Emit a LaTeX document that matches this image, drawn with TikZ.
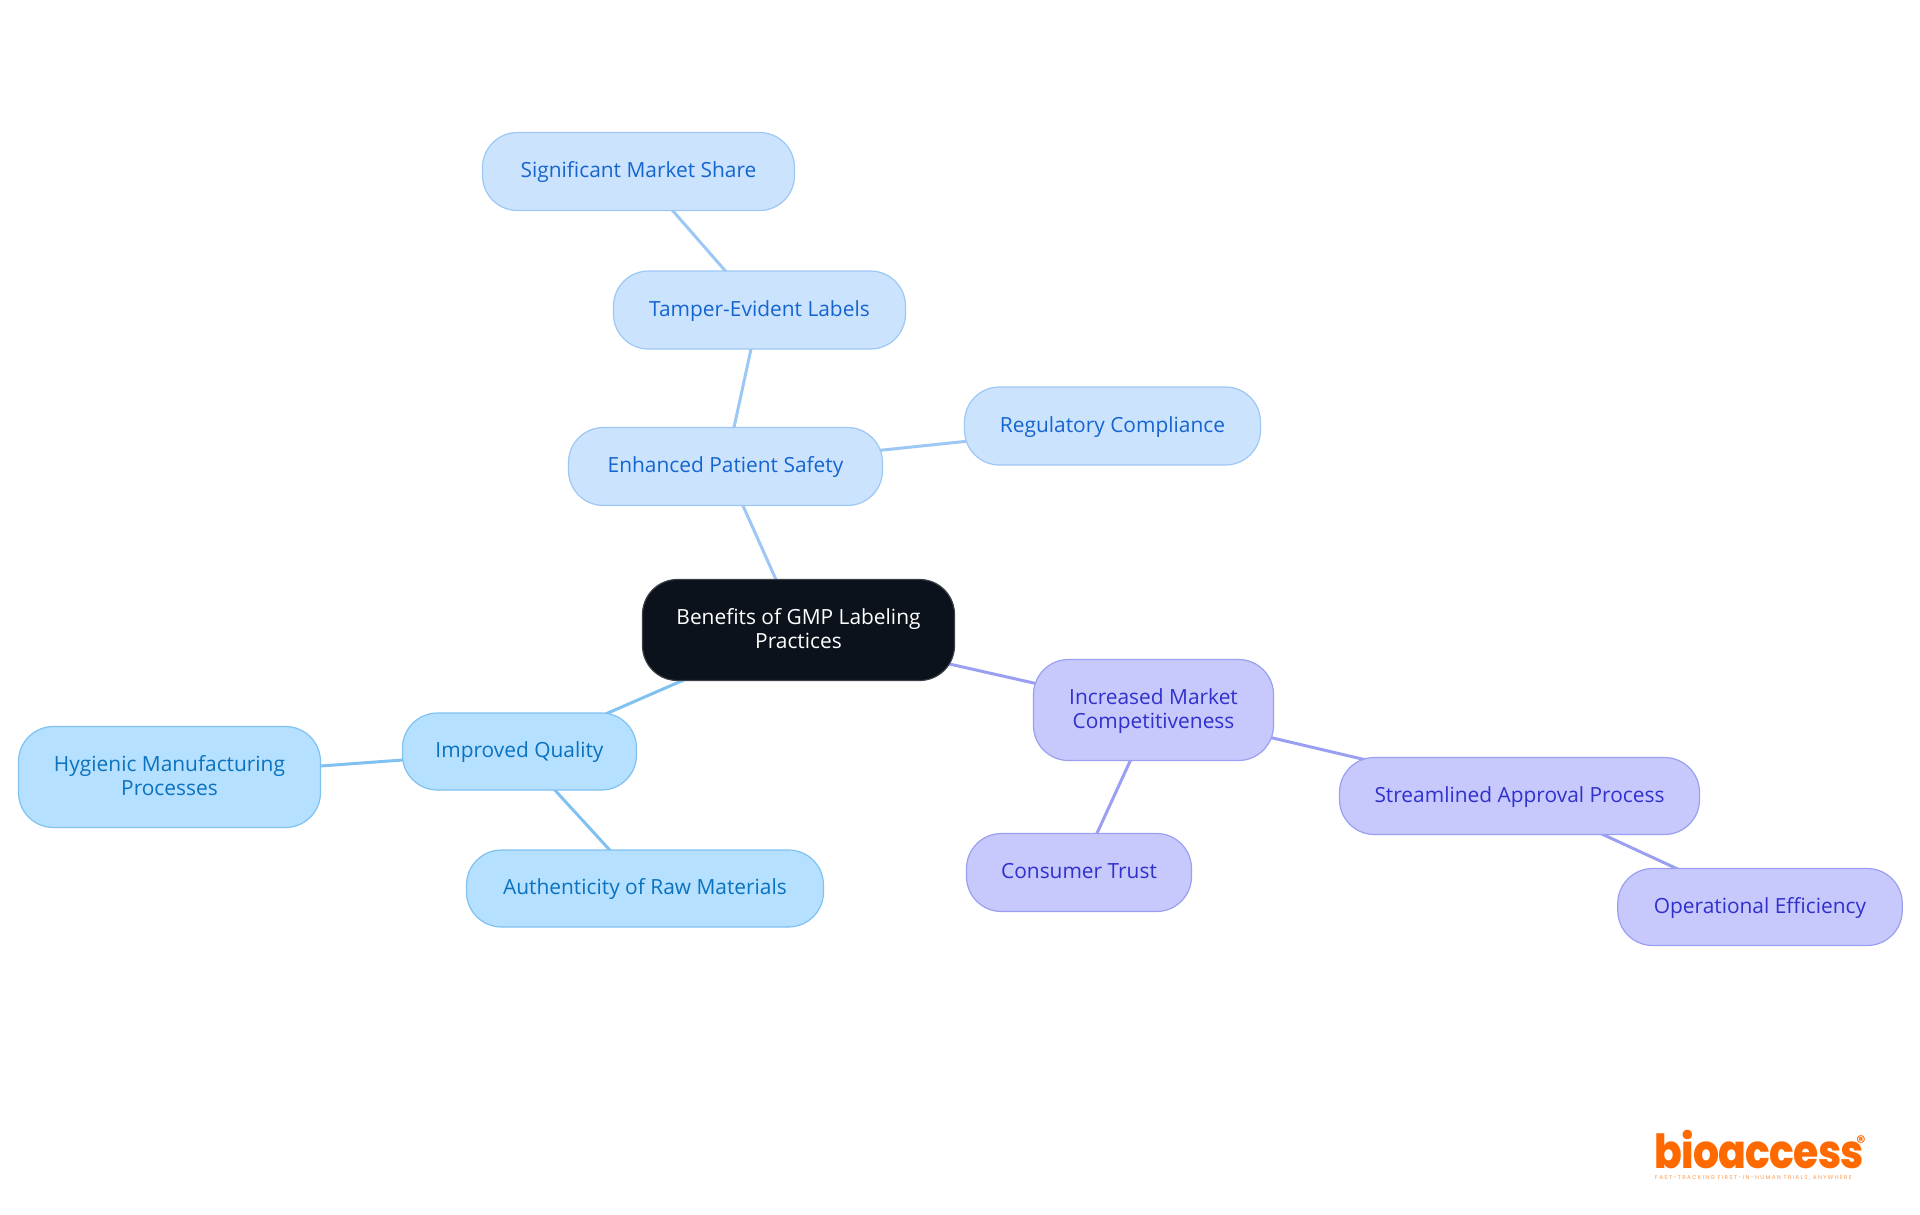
\documentclass[tikz,border=0pt]{standalone}
\usepackage{fontspec}
\setmainfont{Open Sans}
\newfontfamily\logofont[FakeStretch=0.87,LetterSpace=-1.5,BoldFont={Poppins ExtraBold}]{Poppins}
\newfontfamily\tagfont[LetterSpace=24]{Poppins}
\newfontfamily\markfont{Poppins}
\usetikzlibrary{backgrounds}

\definecolor{rootfill}{HTML}{0B121B}
\definecolor{rootline}{HTML}{3A3F46}
\definecolor{safetyfill}{HTML}{CCE3FD}
\definecolor{safetyline}{HTML}{9DC7F5}
\definecolor{safetytext}{HTML}{1565D0}
\definecolor{qualityfill}{HTML}{B5E0FF}
\definecolor{qualityline}{HTML}{7FC2F2}
\definecolor{qualitytext}{HTML}{0A72BE}
\definecolor{marketfill}{HTML}{C7C9FC}
\definecolor{marketline}{HTML}{9A9FF2}
\definecolor{markettext}{HTML}{3030CC}
\definecolor{logoorange}{HTML}{FF6A00}

% one line of box text, same height whatever its letters
\newcommand{\ls}{\rule[-5.3pt]{0pt}{23.5pt}}

\tikzset{
  mapbox/.style={draw, line width=1.2pt, rounded corners=35pt, align=center, inner sep=0pt,
    font=\fontsize{20.9}{23.5}\selectfont},
  rootbox/.style={mapbox, fill=rootfill, draw=rootline, text=white},
  safetybox/.style={mapbox, fill=safetyfill, draw=safetyline, text=safetytext},
  qualitybox/.style={mapbox, fill=qualityfill, draw=qualityline, text=qualitytext},
  marketbox/.style={mapbox, fill=marketfill, draw=marketline, text=markettext},
  size/.style 2 args={minimum width=#1pt, minimum height=#2pt},
  safetyedge/.style={draw=safetyline, line width=3pt},
  qualityedge/.style={draw=qualityline, line width=3pt},
  marketedge/.style={draw=marketline, line width=3pt}
}

\begin{document}
\begin{tikzpicture}[x=1pt, y=-1pt]

    % page of the reference
    \useasboundingbox (0,0) rectangle (1920,1215);

    % centre
    \node[rootbox, size={312}{101}] (root) at (798.5,630) {Benefits of GMP Labeling\ls\\Practices\ls};

    % upper branch
    \node[safetybox, size={314}{78}] (safety) at (725.5,466.5) {Enhanced Patient Safety\ls};
    \node[safetybox, size={292}{78}] (tamper) at (759.5,310) {Tamper-Evident Labels\ls};
    \node[safetybox, size={312}{78}] (share) at (638.5,171.5) {Significant Market Share\ls};
    \node[safetybox, size={296}{78}] (compliance) at (1112.5,426) {Regulatory Compliance\ls};

    % left branch
    \node[qualitybox, size={234}{77}] (quality) at (519.5,751.5) {Improved Quality\ls};
    \node[qualitybox, size={302}{101}] (hygiene) at (169.5,777) {Hygienic Manufacturing\ls\\Processes\ls};
    \node[qualitybox, size={357}{77}] (materials) at (645,888.5) {Authenticity of Raw Materials\ls};

    % right branch
    \node[marketbox, size={240}{101}] (market) at (1153.5,710) {Increased Market\ls\\Competitiveness\ls};
    \node[marketbox, size={225}{78}] (trust) at (1079,872.5) {Consumer Trust\ls};
    \node[marketbox, size={360}{77}] (approval) at (1519.5,796) {Streamlined Approval Process\ls};
    \node[marketbox, size={284.5}{77}] (efficiency) at (1760,907) {Operational Efficiency\ls};

    % connectors run centre to centre behind the boxes
    \begin{pgfonlayer}{background}
        \draw[safetyedge] (root.center) -- (safety.center);
        \draw[safetyedge] (safety.center) -- (tamper.center);
        \draw[safetyedge] (tamper.center) -- (share.center);
        \draw[safetyedge] (safety.center) -- (compliance.center);
        \draw[qualityedge] (root.center) -- (quality.center);
        \draw[qualityedge] (quality.center) -- (hygiene.center);
        \draw[qualityedge] (quality.center) -- (materials.center);
        \draw[marketedge] (root.center) -- (market.center);
        \draw[marketedge] (market.center) -- (trust.center);
        \draw[marketedge] (market.center) -- (approval.center);
        \draw[marketedge] (approval.center) -- (efficiency.center);
    \end{pgfonlayer}

    % logo
    \node[anchor=base west, inner sep=0pt, text depth=0pt, text=logoorange, font=\logofont\bfseries\fontsize{47}{47}\selectfont] (logo) at (1654,1168) {bioaccess};
    \node[anchor=center, inner sep=0pt, text=logoorange, font=\markfont\bfseries\fontsize{18}{18}\selectfont] (mark) at (1861,1142) {\textregistered};
    \node[anchor=base west, inner sep=0pt, text=logoorange!70, font=\tagfont\fontsize{5.6}{6}\selectfont] (tagline) at (1655,1179) {FAST-TRACKING FIRST-IN-HUMAN TRIALS, ANYWHERE};

\end{tikzpicture}
\end{document}
